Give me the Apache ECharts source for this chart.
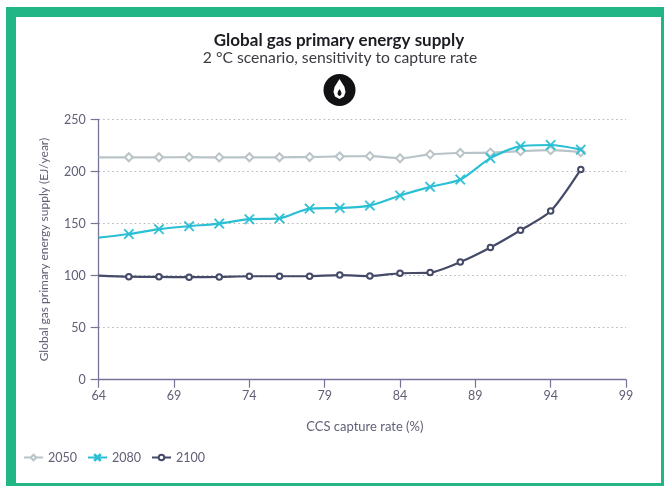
<!DOCTYPE html>
<html><head><meta charset="utf-8">
<style>html,body{margin:0;padding:0;background:#fff}#c{width:664px;height:486px}</style>
<script src="https://cdn.jsdelivr.net/npm/echarts@6/dist/echarts.min.js"></script>
</head><body><div id="c"></div>
<script>
const rates = [64,66,68,70,72,74,76,78,80,82,84,86,88,90,92,94,96];
const xTicks = [64,69,74,79,84,89,94,99];
const gas2050 = [213.7,213.7,213.7,213.8,213.6,213.7,213.7,213.9,214.5,214.8,212.8,216.5,217.8,218.2,219.6,220.5,218.6];
const gas2080 = [136.5,140,144.6,147.5,150,154.2,155,164.4,165,167.3,177,185.3,192.3,212.9,224.4,225.5,221];
const gas2100 = [100,99,98.8,98.5,98.7,99.4,99.4,99.5,100.5,99.6,102.3,102.9,113,127,143.6,162,202];

const crossPath = 'path://M1 0L5 3.9L9 0L10 .8L6 5L10 9.2L9 10L5 6.1L1 10L0 9.2L4 5L0 .8Z';
const font = 'Lato';
const axisColor = '#77749a';
const textColor = '#5f5f76';
function pairs(v){ return rates.map((r,i)=> i===0 ? {value:[r,v[i]],symbol:'none'} : [r,v[i]]); }
function mk(name, v, color, symbol, size, width, z, border){
  return {name, type:'line', data:pairs(v), smooth:0.25, z,
    symbol, symbolSize:size, showSymbol:true,
    lineStyle:{color,width}, itemStyle:{color:color,borderColor:color,borderWidth:border}};
}
const chart = echarts.init(document.getElementById('c'),null,{renderer:'canvas'});
chart.setOption({
  animation:false,
  backgroundColor:'#fff',
  textStyle:{fontFamily:font},
  title:[
    {text:'Global gas primary energy supply',left:334,top:27,textAlign:'center',
     textStyle:{fontFamily:font,fontSize:17,fontWeight:'bold',color:'#1c1c22'}},
    {text:'2 °C scenario, sensitivity to capture rate',left:335,top:45,textAlign:'center',
     textStyle:{fontFamily:font,fontSize:15.7,fontWeight:'normal',color:'#3a3a42'}}
  ],
  legend:{left:18,top:446,itemWidth:19,itemHeight:7,itemGap:10,
    textStyle:{fontFamily:font,fontSize:12.5,color:textColor},
    data:['2050','2080','2100']},
  grid:{left:98.7,right:38,top:119.5,bottom:106.3,containLabel:false},
  xAxis:{type:'value',min:64,max:99,name:'CCS capture rate (%)',nameLocation:'middle',nameGap:41,
    nameTextStyle:{fontFamily:font,fontSize:13,color:textColor,padding:[0,0,0,5]},
    axisLine:{show:true,onZero:false,lineStyle:{color:axisColor,width:1.3}},
    axisTick:{show:true,length:8,customValues:xTicks,lineStyle:{color:axisColor,width:1.2}},
    axisLabel:{customValues:xTicks,fontFamily:font,fontSize:12.5,color:textColor,margin:10},
    splitLine:{show:false}},
  yAxis:{type:'value',min:0,max:250,interval:50,name:'Global gas primary energy supply (EJ/year)',
    nameLocation:'middle',nameGap:49,
    nameTextStyle:{fontFamily:font,fontSize:12,color:textColor},
    axisLine:{show:true,lineStyle:{color:axisColor,width:1.3}},
    axisTick:{show:true,length:8,lineStyle:{color:axisColor,width:1.2}},
    axisLabel:{fontFamily:font,fontSize:12.5,color:textColor,margin:13},
    splitLine:{show:true,lineStyle:{color:'#b4b4b4',type:[1.5,3],width:1.2}}},
  series:[
    mk('2050',gas2050,'#b9c4c8','emptyDiamond',8,2.2,2,2),
    mk('2080',gas2080,'#2bbfd4',crossPath,10,2.2,3,0.6),
    mk('2100',gas2100,'#454a68','emptyCircle',5.5,2.2,4,2.5)
  ],
  graphic:[
    {type:'rect',silent:true,z:100,shape:{x:6,y:7,width:658,height:10},style:{fill:'#22b585'}},
    {type:'rect',silent:true,z:100,shape:{x:6,y:7,width:10,height:479},style:{fill:'#22b585'}},
    {type:'rect',silent:true,z:100,shape:{x:661,y:7,width:3,height:479},style:{fill:'#22b585'}},
    {type:'rect',silent:true,z:100,shape:{x:6,y:483,width:658,height:3},style:{fill:'#22b585'}},
    {type:'circle',silent:true,z:100,shape:{cx:339.5,cy:90,r:16},style:{fill:'#111114'}},
    {type:'polygon',silent:true,z:101,shape:{points:[[339.5,79],[337,83],[334.5,87],[333.5,92],[335,96.5],[339.5,99],[344,96.5],[345.5,92],[344.5,87],[342,83]]},style:{fill:'#fff'}},
    {type:'polygon',silent:true,z:102,shape:{points:[[339.5,89],[338,91.5],[337.5,93.5],[338.2,95.3],[339.5,96],[340.8,95.3],[341.5,93.5],[341,91.5]]},style:{fill:'#111114'}}
  ]
});
</script></body></html>
